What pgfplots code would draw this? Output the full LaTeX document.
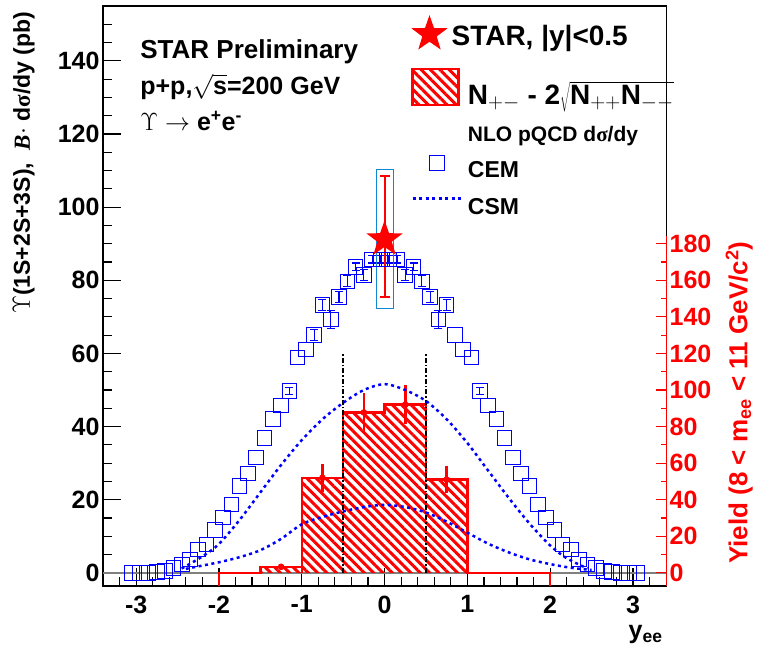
\documentclass[border=0pt]{standalone}
\usepackage{pgfplots}
\pgfplotsset{compat=1.18}
\usepackage{fontspec}
\setmainfont{Liberation Sans}
\newfontfamily\serif{Liberation Serif}
\usetikzlibrary{patterns.meta,shapes.geometric}
\pgfdeclareplotmark{bigstar}{\node[star,star points=5,star point ratio=2.5,fill=red,draw=none,inner sep=0pt,minimum size=38pt]{};}
\tikzset{hatch/.style={pattern={Lines[angle=-45,distance=6.6pt,line width=3pt]},pattern color=red}}
\begin{document}
\begin{tikzpicture}
\begin{axis}[
  scale only axis, width=563pt, height=580pt,
  xmin=-3.4, xmax=3.4, ymin=-3.6, ymax=155,
  clip=false,
  axis line style={line width=1.2pt},
  xtick={-3,...,3}, minor xtick={-3.2,-2.8,-2.6,-2.4,-2.2,-1.8,-1.6,-1.4,-1.2,-0.8,-0.6,-0.4,-0.2,0.2,0.4,0.6,0.8,1.2,1.4,1.6,1.8,2.2,2.4,2.6,2.8,3.2},
  ytick={0,20,...,140}, minor ytick={5,10,...,155},
  xtick pos=lower, ytick pos=left, tick align=inside,
  major tick length=18pt, minor tick length=9pt,
  tick style={line width=1.2pt, black},
  /pgf/number format/assume math mode=true,
  ticklabel style={font=\fontsize{25}{30}\selectfont\bfseries},
  xticklabel style={yshift=-6pt},
  xlabel={y\textsubscript{ee}},
  xlabel style={font=\fontsize{25}{30}\selectfont\bfseries, at={(axis description cs:1,0)}, anchor=north east, yshift=-36pt},
  ylabel={$\Upsilon$(1S+2S+3S),\ \ {\serif\bfseries\itshape B}$\cdot$ d{\serif σ}/dy (pb)},
  ylabel style={font=\fontsize{23}{28}\selectfont\bfseries, at={(axis description cs:-0.115,0.996)}, anchor=south east},
  legend style={at={(axis description cs:0.542,0.897)}, anchor=north west, draw=none, fill=none,
     nodes={inner sep=0pt, text height=24pt, text depth=9pt}, column sep=4pt, row sep=3.5pt},
  legend cell align=left,
]
\path (axis description cs:-0.183,-0.105) rectangle (axis description cs:1.165,1.0103);

\addlegendimage{legend image code/.code={\draw[red,line width=2.5pt,hatch] (0pt,-8pt) rectangle (46pt,28pt);}}
\addlegendentry{\fontsize{28}{30}\selectfont\bfseries N$_{+-}$ - 2$\sqrt{\mbox{N$_{++}$N$_{--}$}}$}
\addlegendimage{empty legend}
\addlegendentry{\fontsize{21}{24}\selectfont\bfseries NLO pQCD d{\serif σ}/dy}
\addlegendimage{legend image code/.code={\draw[blue,line width=1pt] (17pt,0pt) rectangle (32pt,15pt);}}
\addlegendentry{\fontsize{23}{28}\selectfont\bfseries CEM}
\addlegendimage{legend image code/.code={\draw[blue,line width=2.5pt,dash pattern=on 3pt off 3.5pt] (0pt,8pt) -- (50pt,8pt);}}
\addlegendentry{\fontsize{23}{28}\selectfont\bfseries CSM}

\addplot[gray, line width=1.5pt, forget plot] coordinates {(-3.4,0) (3.4,0)};

\addplot[draw=none, hatch, forget plot] coordinates {(-1.5,0)(-1.5,1.65)(-1,1.65)(-1,26)(-0.5,26)(-0.5,43.85)(0,43.85)(0,46)(0.5,46)(0.5,25.5)(1,25.5)(1,0)} \closedcycle;
\addplot[red, line width=2.5pt, forget plot] coordinates {(-2,-3.6)(-2,0)(-1.5,0)(-1.5,1.65)(-1,1.65)(-1,0)(-1,26)(-0.5,26)(-0.5,43.85)(0,43.85)(0,46)(0.5,46)(0.5,25.5)(1,25.5)(1,0)(2,0)(2,-3.6)};
\addplot[red, line width=2.5pt, only marks, mark=none, forget plot,
  error bars/.cd, y dir=both, y explicit, error mark=none, error bar style={line width=2.5pt,red}]
  coordinates {(-1.25,1.65)+-(0,0.75) (-0.75,26)+-(0,3.75) (-0.25,43.85)+-(0,5.25) (0.25,46)+-(0,5.25) (0.75,25.5)+-(0,3.75)};

\addplot[black, line width=2.5pt, dash pattern=on 5pt off 2pt on 1.5pt off 2pt, forget plot] coordinates {(-0.5,0)(-0.5,60)};
\addplot[black, line width=2.5pt, dash pattern=on 5pt off 2pt on 1.5pt off 2pt, forget plot] coordinates {(0.5,0)(0.5,60)};

\addplot[blue, line width=2.5pt, dash pattern=on 3pt off 3.5pt, smooth, forget plot] coordinates {
(-2.45,1.2)(-2.2,4.5)(-2,7.9)(-1.75,14.5)(-1.5,22)(-1.25,29.5)(-1,36.3)(-0.75,42)(-0.5,46.5)(-0.25,50)(0,51.6)(0.25,50)(0.5,47)(0.75,42)(1,35.5)(1.25,28)(1.5,20.5)(1.75,13.5)(2,7.5)(2.2,4)(2.45,1.2)};
\addplot[blue, line width=2.5pt, dash pattern=on 3pt off 3.5pt, smooth, forget plot] coordinates {
(-2.4,1.1)(-2.2,2.0)(-2,2.9)(-1.75,4.3)(-1.5,6.2)(-1.25,9.3)(-1,13.3)(-0.75,15.3)(-0.5,16.8)(-0.25,18)(0,18.6)(0.25,18)(0.5,16.5)(0.75,14)(1,11)(1.25,8)(1.5,5.6)(1.75,3.7)(2,2.4)(2.25,1.4)(2.5,0.8)};

\addplot[blue, only marks, mark=square, mark size=7.3pt, mark options={line width=1pt, draw=blue}, forget plot,
  error bars/.cd, y dir=both, y explicit, error mark options={line width=1.2pt,draw=blue,mark size=4pt,rotate=90}, error bar style={line width=1.2pt,draw=blue}]
  coordinates {
(-3.05,0)(-2.95,0)(-2.85,0)(-2.75,0.2)(-2.65,0.5)(-2.55,1.4)(-2.45,2.3)(-2.35,3.7)(-2.25,6.4)(-2.15,7.8)(-2.05,11.7)(-1.95,15.1)(-1.85,18.7)(-1.75,23.8)(-1.65,27.2)(-1.55,31.6)(-1.45,36.9)(-1.35,42.1)(-1.25,45.8)(-1.15,49.7)+-(0,1)(-1.05,58.9)(-0.95,61.1)(-0.85,65.1)+-(0,1.5)(-0.75,73.3)+-(0,1.5)(-0.65,69.3)+-(0,2.5)(-0.55,75.5)+-(0,1.5)(-0.45,79.7)+-(0,1.5)(-0.35,83.7)+-(0,1)(-0.25,81.5)+-(0,1.5)(-0.15,85.7)+-(0,1)(-0.05,85.7)+-(0,1)
(0.05,85.7)+-(0,1)(0.15,85.7)+-(0,1)(0.25,81.5)+-(0,1.5)(0.35,83.7)+-(0,1)(0.45,79.7)+-(0,1.5)(0.55,75.5)+-(0,1.5)(0.65,69.3)+-(0,2.5)(0.75,73.3)+-(0,1.5)(0.85,65.1)(0.95,61.1)(1.05,58.9)(1.15,49.7)+-(0,1)(1.25,45.8)(1.35,42.1)(1.45,36.9)(1.55,31.6)(1.65,27.2)(1.75,23.8)(1.85,18.7)(1.95,15.1)(2.05,11.7)(2.15,7.8)(2.25,6.4)(2.35,3.7)(2.45,2.3)(2.55,1.4)(2.65,0.5)(2.75,0.2)(2.85,0)(2.95,0)(3.05,0)};

\addplot[draw=cyan!70!blue, line width=1pt, forget plot] coordinates {(-0.1,72.3)(0.105,72.3)(0.105,110.3)(-0.1,110.3)(-0.1,72.3)};
\addplot[red, only marks, mark=bigstar, forget plot,
  error bars/.cd, y dir=both, y explicit, error mark options={line width=2pt,red,mark size=5pt,rotate=90}, error bar style={line width=2pt,red}]
  coordinates {(0,91.2) += (0,17.3) -= (0,15.9)};

\node[anchor=base west, font=\fontsize{26}{30}\selectfont\bfseries] at (axis description cs:0.060,0.909) {STAR Preliminary};
\node[anchor=base west, font=\fontsize{25}{30}\selectfont\bfseries] at (axis description cs:0.060,0.847) {p+p,$\sqrt{\mbox{s}}$=200 GeV};
\node[anchor=base west, font=\fontsize{25}{30}\selectfont\bfseries] at (axis description cs:0.060,0.786) {$\Upsilon\rightarrow$ e\textsuperscript{+}e\textsuperscript{-}};
\end{axis}

\begin{axis}[
  scale only axis, width=563pt, height=580pt,
  xmin=-3.4, xmax=3.4, ymin=-7.2, ymax=310,
  clip=false,
  axis x line=none, axis y line*=right,
  y axis line style={draw=none},
  ytick={0,20,...,180}, minor ytick={10,30,...,170},
  tick align=inside, major tick length=10pt, minor tick length=5pt,
  tick style={line width=1.2pt, red},
  /pgf/number format/assume math mode=true,
  yticklabel style={font=\fontsize{25}{30}\selectfont\bfseries, red},
  ylabel={Yield (8 < m\textsubscript{ee} < 11 GeV/c\textsuperscript{2})},
  ylabel style={font=\fontsize{26}{30}\selectfont\bfseries, red, at={(axis description cs:1.13,0.316)}, anchor=center},
  legend style={at={(axis description cs:0.542,0.988)}, anchor=north west, draw=none, fill=none,
     nodes={inner sep=0pt}, column sep=4pt},
]
\addplot[red, line width=1.2pt, forget plot] coordinates {(3.4,-7.2)(3.4,184)};
\addlegendimage{legend image code/.code={\node[star,star points=5,star point ratio=2.5,fill=red,draw=none,inner sep=0pt,minimum size=38pt] at (23pt,-3pt){};}}
\addlegendentry{\fontsize{28}{30}\selectfont\bfseries\rule{0pt}{30pt}STAR, |y|<0.5}
\end{axis}
\end{tikzpicture}
\end{document}
